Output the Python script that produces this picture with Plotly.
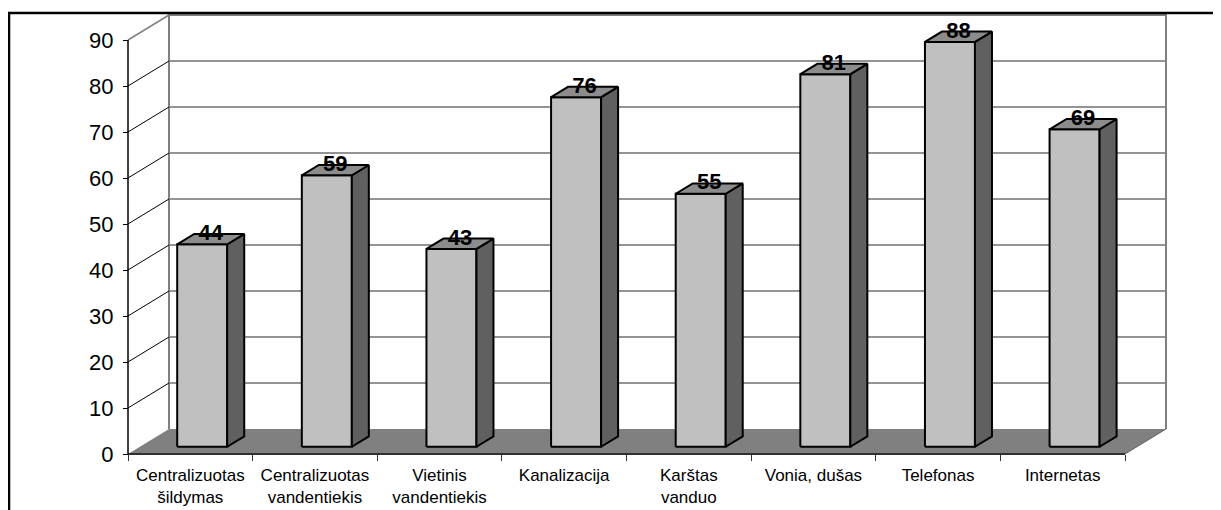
import plotly.graph_objects as go

# data
categories = ["Centralizuotas<br>šildymas", "Centralizuotas<br>vandentiekis", "Vietinis<br>vandentiekis",
              "Kanalizacija", "Karštas<br>vanduo", "Vonia, dušas", "Telefonas", "Internetas"]
values = [44, 59, 43, 76, 55, 81, 88, 69]
y_ticks = [0, 10, 20, 30, 40, 50, 60, 70, 80, 90]

W, H = 1221, 510
OFF = 8                           # page body margin the browser adds
# pixel geometry of the fake 3d box (in page pixels, shifted by OFF)
px_x0, px_unit = 128 - OFF, 124.625   # front axis start, px per category
px_y0, px_val = 454 - OFF, 4.6        # front floor line, px per value unit
dx = 41 / px_unit                 # depth offset in x units
dv = 25 / px_val                  # depth offset in value units
bar_w = 50 / px_unit
bar_front = 0.29                  # bar starts at this fraction of depth
bar_depth = 0.415
n = len(categories)
vmax = max(y_ticks)

FONT = "Liberation Sans, Arial, sans-serif"
fig = go.Figure()

def seg(xs, ys, color, width):
    fig.add_trace(go.Scatter(x=xs, y=ys, mode="lines", line=dict(color=color, width=width),
                             hoverinfo="skip", showlegend=False))

# back wall gridlines
gx, gy = [], []
for t in y_ticks[1:-1]:
    gx += [dx, n + dx, None]
    gy += [t + dv, t + dv, None]
seg(gx, gy, "#707070", 1.5)
# back wall outline
seg([dx, dx, n + dx, n + dx], [dv, vmax + dv, vmax + dv, dv], "#808080", 2)
# left wall lines
lx, ly = [], []
for t in y_ticks[1:-1]:
    lx += [0, dx, None]
    ly += [t, t + dv, None]
seg(lx, ly, "#000000", 1)
seg([0, dx], [vmax, vmax + dv], "#808080", 1.5)

# floor
fig.add_trace(go.Scatter(x=[0, n, n + dx, dx, 0], y=[0, 0, dv, dv, 0], mode="lines",
                         fill="toself", fillcolor="#808080", line=dict(width=0),
                         hoverinfo="skip", showlegend=False))
seg([0, n], [0, 0], "#303030", 2)
seg([n, n + dx], [0, dv], "#606060", 1)
# front value axis line
seg([0, 0], [0, vmax], "#000000", 1.5)

# bars
fx, fy, sx, sy, tx, ty = [], [], [], [], [], []
for i, v in enumerate(values):
    x0 = i + 0.5 - bar_w / 2 + bar_front * dx
    x1 = x0 + bar_w
    b = bar_front * dv
    t = v + b
    ex, ev = bar_depth * dx, bar_depth * dv
    fx += [x0, x1, x1, x0, x0, None]
    fy += [b, b, t, t, b, None]
    sx += [x1, x1 + ex, x1 + ex, x1, x1, None]
    sy += [b, b + ev, t + ev, t, b, None]
    tx += [x0, x1, x1 + ex, x0 + ex, x0, None]
    ty += [t, t, t + ev, t + ev, t, None]

for xs, ys, col in [(fx, fy, "#C0C0C0"), (sx, sy, "#606060"), (tx, ty, "#8C8C8C")]:
    fig.add_trace(go.Scatter(x=xs, y=ys, mode="lines", fill="toself", fillcolor=col,
                             line=dict(color="#000000", width=2), hoverinfo="skip",
                             showlegend=False))

# value labels on top of the bars
fig.add_trace(go.Scatter(
    x=[i + 0.5 + bar_front * dx + bar_depth * dx / 2 for i in range(n)],
    y=[v + 0.5 * dv + 1.0 for v in values],
    mode="text", text=[str(v) for v in values], textposition="middle center",
    textfont=dict(family=FONT, size=22, color="#000000", weight="bold"),
    hoverinfo="skip", showlegend=False, cliponaxis=False))

fig.update_layout(
    width=W, height=H,
    margin=dict(l=0, r=0, t=0, b=0),
    paper_bgcolor="white", plot_bgcolor="white",
    showlegend=False,
    xaxis=dict(
        range=[-px_x0 / px_unit, (W - px_x0) / px_unit],
        anchor="free", position=(H - px_y0) / H, automargin=False,
        tickmode="array", tickvals=[i + 0.5 for i in range(n)], ticktext=categories,
        ticks="", showgrid=False, zeroline=False, showline=False,
        ticklabelstandoff=9,
        tickfont=dict(family=FONT, size=17, color="#000000"),
        minor=dict(tickmode="linear", tick0=0, dtick=1, ticks="outside", ticklen=6,
                   tickcolor="#303030", tickwidth=1, showgrid=False),
    ),
    yaxis=dict(
        range=[-(H - px_y0) / px_val, px_y0 / px_val],
        anchor="free", position=px_x0 / W, automargin=False,
        tickmode="array", tickvals=y_ticks,
        ticks="outside", ticklen=5, tickcolor="#000000", tickwidth=1,
        ticklabelstandoff=5,
        showgrid=False, zeroline=False, showline=False,
        tickfont=dict(family=FONT, size=22, color="#000000"),
    ),
    shapes=[dict(type="rect", xref="paper", yref="paper",
                 x0=(9 - OFF) / W, x1=1.02, y0=-0.05, y1=1 - (13 - OFF) / H,
                 line=dict(color="#000000", width=2.5), layer="above")],
)

fig.write_html("out.html")
